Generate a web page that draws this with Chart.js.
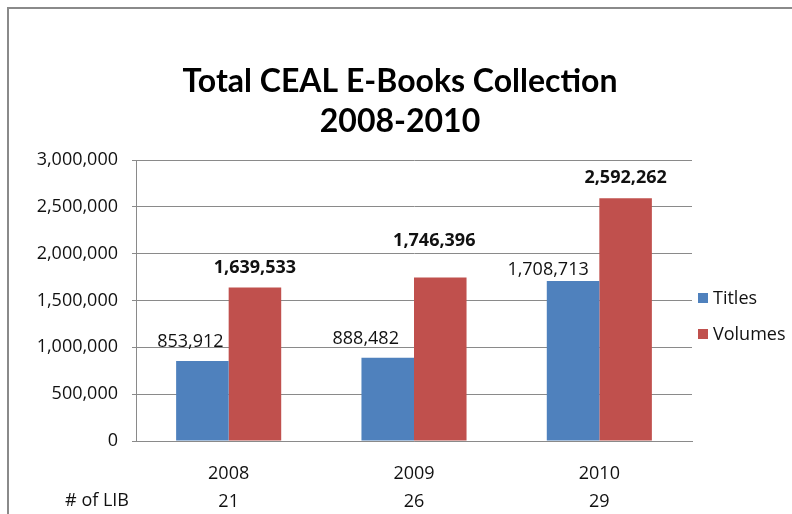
<!DOCTYPE html>
<html>
<head>
<meta charset="utf-8">
<script src="https://cdn.jsdelivr.net/npm/chart.js@4.4.1/dist/chart.umd.min.js"></script>
<style>
  html, body { margin: 0; padding: 0; background: #fff; overflow: hidden; }
  #wrap { position: relative; width: 792px; height: 514px; }
  #frame { position: absolute; left: 7px; top: 7px; width: 900px; height: 700px;
           border-left: 2px solid #8a8a8a; border-top: 2px solid #8a8a8a; pointer-events: none; }
  canvas { position: absolute; left: 0; top: 0; }
</style>
</head>
<body>
<div id="wrap">
  <canvas id="c" width="792" height="514"></canvas>
  <div id="frame"></div>
</div>
<script>
// ---- data ----
const years = ['2008', '2009', '2010'];
const libCounts = ['21', '26', '29'];
const titles = [853912, 888482, 1708713];
const volumes = [1639533, 1746396, 2592262];
const yTickValues = [0, 500000, 1000000, 1500000, 2000000, 2500000, 3000000];

// label nudges (style only): [dx, gap above bar top]
const titleLabelNudge = [[-12, 14], [-22, 14], [-25, 6]];
const volumeLabelNudge = [[0, 14], [-6, 31], [0, 15]];

const FONT = "'Open Sans', sans-serif";
const TXT = '#111';
const XPAD = 11;

const fmt = v => v.toLocaleString('en-US');

const labelPlugin = {
  id: 'valueLabels',
  afterDatasetsDraw(chart) {
    const ctx = chart.ctx;
    ctx.save();
    ctx.fillStyle = TXT;
    ctx.textAlign = 'center';
    ctx.textBaseline = 'alphabetic';
    chart.data.datasets.forEach((ds, di) => {
      const meta = chart.getDatasetMeta(di);
      const nudge = di === 0 ? titleLabelNudge : volumeLabelNudge;
      ctx.font = (di === 0 ? '' : 'bold ') + '18px ' + FONT;
      meta.data.forEach((bar, i) => {
        ctx.fillText(fmt(ds.data[i]), bar.x + nudge[i][0], bar.y - nudge[i][1]);
      });
    });
    ctx.restore();
  }
};

const legendPlugin = {
  id: 'sideLegend',
  afterDraw(chart) {
    const ctx = chart.ctx;
    const a = chart.chartArea;
    ctx.save();
    ctx.font = '18px ' + FONT;
    ctx.textBaseline = 'middle';
    ctx.textAlign = 'left';
    chart.data.datasets.forEach((ds, i) => {
      const cy = a.top + 138 + i * 36;
      const x = a.right + 6;
      ctx.fillStyle = ds.backgroundColor;
      ctx.fillRect(x, cy - 5, 10, 10);
      ctx.fillStyle = TXT;
      ctx.fillText(ds.label, x + 15, cy + 1);
    });
    ctx.restore();
  }
};

const rowLabelPlugin = {
  id: 'rowLabel',
  afterDraw(chart) {
    const ctx = chart.ctx;
    const xs = chart.scales.x;
    ctx.save();
    ctx.font = '18px ' + FONT;
    ctx.fillStyle = TXT;
    ctx.textAlign = 'right';
    ctx.textBaseline = 'middle';
    ctx.fillText('# of LIB', 129, xs.top + XPAD + 49);
    ctx.restore();
  }
};

new Chart(document.getElementById('c'), {
  type: 'bar',
  data: {
    labels: years.map((y, i) => [y, libCounts[i]]),
    datasets: [
      { label: 'Titles', data: titles, backgroundColor: '#4F81BD', yAxisID: 'y' },
      { label: 'Volumes', data: volumes, backgroundColor: '#C0504D', yAxisID: 'y' }
    ]
  },
  options: {
    responsive: false,
    animation: false,
    devicePixelRatio: 1,
    layout: { padding: { left: 8, right: 0, top: 0, bottom: 0 } },
    categoryPercentage: 0.567,
    barPercentage: 1.0,
    plugins: {
      legend: { display: false },
      tooltip: { enabled: false },
      title: {
        display: true,
        text: ['Total CEAL E-Books Collection', '2008-2010'],
        font: { family: "Lato, sans-serif", size: 32, weight: 'bold', lineHeight: 1.25 },
        color: '#000',
        padding: { top: 62, bottom: 18 }
      }
    },
    scales: {
      x: {
        grid: { display: false },
        border: { display: true, color: '#8a8a8a', width: 1 },
        afterFit(scale) { scale.height = 73; },
        ticks: {
          color: TXT,
          font: { family: FONT, size: 18, lineHeight: 1.5556 },
          padding: XPAD,
          maxRotation: 0
        }
      },
      y: {
        min: 0,
        max: 3000000,
        afterFit(scale) { scale.width = 128; },
        afterBuildTicks(scale) { scale.ticks = yTickValues.map(v => ({ value: v })); },
        grid: { color: '#8a8a8a', lineWidth: 1, tickLength: 4 },
        border: { display: true, color: '#8a8a8a', width: 1 },
        ticks: {
          color: TXT,
          font: { family: FONT, size: 18 },
          padding: 14,
          callback: v => fmt(v)
        }
      },
      yLegendSpace: {
        position: 'right',
        min: 0,
        max: 1,
        afterFit(scale) { scale.width = 100; },
        grid: { display: false, drawOnChartArea: false },
        border: { display: false },
        ticks: { display: false }
      }
    }
  },
  plugins: [labelPlugin, legendPlugin, rowLabelPlugin]
});
</script>
</body>
</html>
